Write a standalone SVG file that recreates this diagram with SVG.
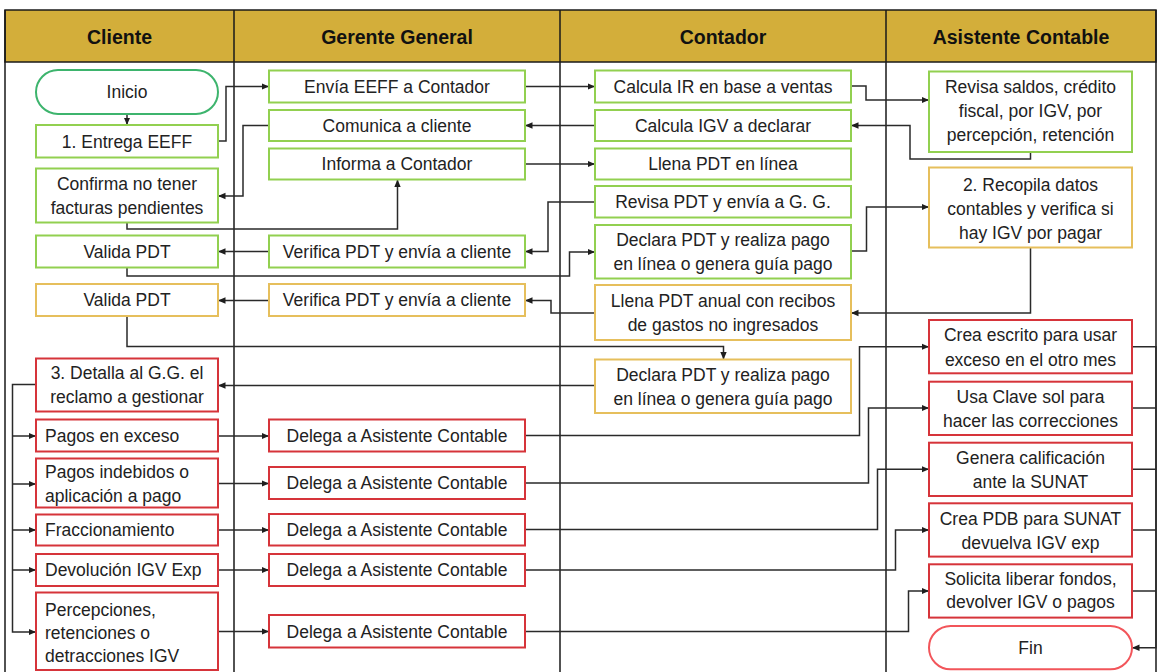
<svg xmlns="http://www.w3.org/2000/svg" width="1161" height="672" viewBox="0 0 1161 672">
  <defs>
    <marker id="arrow" markerUnits="userSpaceOnUse" markerWidth="8" markerHeight="8" viewBox="0 0 8 8" refX="7.5" refY="4" orient="auto">
      <path d="M0,0.8 L7.5,4 L0,7.2 z" fill="#1e1e1e"/>
    </marker>
    <style>
      .lane { fill: none; stroke: #1a1a1a; stroke-width: 1.5; }
      .head { fill: #D3AE3A; stroke: #1a1a1a; stroke-width: 1.5; }
      .htxt { font-family: "Liberation Sans", Arial, sans-serif; font-size: 19.5px; font-weight: bold; fill: #111; text-anchor: middle; }
      .txt { font-family: "Liberation Sans", Arial, sans-serif; font-size: 17.5px; fill: #222; text-anchor: middle; }
      .txt.left { text-anchor: start; }
      .box { fill: #fff; stroke-width: 2; }
      .green { stroke: #92D050; }
      .start { stroke: #3DB46D; }
      .gold { stroke: #E6BF5C; }
      .red { stroke: #D6343A; }
      .end { stroke: #F2555A; }
      .edge { fill: none; stroke: #2a2a2a; stroke-width: 1.5; }
      .edge.arr { marker-end: url(#arrow); }
    </style>
  </defs>

  <rect width="1161" height="672" fill="#fff"/>

  <!-- swimlane frame and headers -->
  <g id="lanes">
    <rect class="head" x="5" y="10" width="1151" height="52"/>
    <path class="lane" d="M5,10 V672 M1156,10 V672 M234,10 V672 M560,10 V672 M886,10 V672"/>
    <text class="htxt" x="119.5" y="43.5">Cliente</text>
    <text class="htxt" x="397" y="43.5">Gerente General</text>
    <text class="htxt" x="723" y="43.5">Contador</text>
    <text class="htxt" x="1021" y="43.5">Asistente Contable</text>
  </g>

  <!-- connectors -->
  <g id="connectors">
    <path class="edge arr" d="M127,114 V125"/>
    <path class="edge arr" d="M218,141 H226 V86.5 H269"/>
    <path class="edge arr" d="M525,86.5 H595"/>
    <path class="edge arr" d="M851,86 H866 V100 H929"/>
    <path class="edge arr" d="M1030.5,152 V159 H910 V125.5 H851"/>
    <path class="edge arr" d="M595,125.5 H525"/>
    <path class="edge arr" d="M269,125.5 H243 V196 H218"/>
    <path class="edge arr" d="M127,222.5 V229 H397.5 V179.5"/>
    <path class="edge arr" d="M525,164 H595"/>
    <path class="edge arr" d="M595,202 H548 V251.5 H525"/>
    <path class="edge arr" d="M269,251.5 H218"/>
    <path class="edge arr" d="M127,267.5 V276 H569.5 V252 H595"/>
    <path class="edge arr" d="M851,251 H866.5 V207 H929"/>
    <path class="edge arr" d="M1030.5,247.5 V313 H851"/>
    <path class="edge arr" d="M595,313 H551 V300.5 H525"/>
    <path class="edge arr" d="M269,300.5 H218"/>
    <path class="edge arr" d="M127,316 V346.5 H723.5 V359.5"/>
    <path class="edge arr" d="M595,385.5 H218"/>
    <!-- claim types fan out from the client's request -->
    <path class="edge arr" d="M36,384.5 H12.5 V632 H36"/>
    <path class="edge arr" d="M12.5,436 H36"/>
    <path class="edge arr" d="M12.5,484 H36"/>
    <path class="edge arr" d="M12.5,530 H36"/>
    <path class="edge arr" d="M12.5,570 H36"/>
    <path class="edge arr" d="M218,436 H269"/>
    <path class="edge arr" d="M218,483.5 H269"/>
    <path class="edge arr" d="M218,530 H269"/>
    <path class="edge arr" d="M218,570 H269"/>
    <path class="edge arr" d="M218,631.5 H269"/>
    <path class="edge arr" d="M525,435.5 H859.5 V346.7 H929"/>
    <path class="edge arr" d="M525,483 H868.5 V408 H929"/>
    <path class="edge arr" d="M525,529.5 H877.5 V469.3 H929"/>
    <path class="edge arr" d="M525,570 H895.5 V530 H929"/>
    <path class="edge arr" d="M525,631.5 H908.5 V591 H929"/>
    <!-- all closing tasks merge into Fin -->
    <path class="edge arr" d="M1132,346.7 H1156 V647.7 H1132"/>
    <path class="edge" d="M1132,408 H1156 M1132,469.3 H1156 M1132,530 H1156 M1132,591 H1156"/>
  </g>

  <!-- Cliente -->
  <g id="inicio"><rect class="box start" x="36" y="70" width="182" height="44" rx="22"/><text class="txt" x="127" y="98">Inicio</text></g>
  <g id="entrega-eeff"><rect class="box green" x="36" y="125" width="182" height="32.5"/><text class="txt" x="127" y="147.5">1. Entrega EEFF</text></g>
  <g id="confirma"><rect class="box green" x="36" y="168.5" width="182" height="54"/><text class="txt" x="127" y="190">Confirma no tener</text><text class="txt" x="127" y="214">facturas pendientes</text></g>
  <g id="valida-pdt-1"><rect class="box green" x="36" y="235.5" width="182" height="32"/><text class="txt" x="127" y="257.8">Valida PDT</text></g>
  <g id="valida-pdt-2"><rect class="box gold" x="36" y="284" width="182" height="32"/><text class="txt" x="127" y="306.3">Valida PDT</text></g>
  <g id="detalla"><rect class="box red" x="36" y="358.5" width="182" height="53"/><text class="txt" x="127" y="378.8">3. Detalla al G.G. el</text><text class="txt" x="127" y="403">reclamo a gestionar</text></g>
  <g id="pagos-exceso"><rect class="box red" x="36" y="419.5" width="182" height="32"/><text class="txt left" x="45" y="441.8">Pagos en exceso</text></g>
  <g id="pagos-indebidos"><rect class="box red" x="36" y="458.5" width="182" height="49"/><text class="txt left" x="45" y="478">Pagos indebidos o</text><text class="txt left" x="45" y="502">aplicación a pago</text></g>
  <g id="fraccionamiento"><rect class="box red" x="36" y="514.5" width="182" height="31"/><text class="txt left" x="45" y="536.3">Fraccionamiento</text></g>
  <g id="devolucion"><rect class="box red" x="36" y="554" width="182" height="32"/><text class="txt left" x="45" y="576.3">Devolución IGV Exp</text></g>
  <g id="percepciones"><rect class="box red" x="36" y="592.5" width="182" height="77.5"/><text class="txt left" x="45" y="615.5">Percepciones,</text><text class="txt left" x="45" y="639">retenciones o</text><text class="txt left" x="45" y="662.3">detracciones IGV</text></g>

  <!-- Gerente General -->
  <g id="envia-eeff"><rect class="box green" x="269" y="70.5" width="256" height="32"/><text class="txt" x="397" y="92.8">Envía EEFF a Contador</text></g>
  <g id="comunica"><rect class="box green" x="269" y="110" width="256" height="31"/><text class="txt" x="397" y="131.8">Comunica a cliente</text></g>
  <g id="informa"><rect class="box green" x="269" y="148.5" width="256" height="31"/><text class="txt" x="397" y="170.3">Informa a Contador</text></g>
  <g id="verifica-pdt-1"><rect class="box green" x="269" y="235.5" width="256" height="32"/><text class="txt" x="397" y="257.8">Verifica PDT y envía a cliente</text></g>
  <g id="verifica-pdt-2"><rect class="box gold" x="269" y="284" width="256" height="32"/><text class="txt" x="397" y="306.3">Verifica PDT y envía a cliente</text></g>
  <g id="delega-1"><rect class="box red" x="269" y="419.5" width="256" height="32"/><text class="txt" x="397" y="441.8">Delega a Asistente Contable</text></g>
  <g id="delega-2"><rect class="box red" x="269" y="467" width="256" height="32"/><text class="txt" x="397" y="489.3">Delega a Asistente Contable</text></g>
  <g id="delega-3"><rect class="box red" x="269" y="514" width="256" height="31.5"/><text class="txt" x="397" y="536">Delega a Asistente Contable</text></g>
  <g id="delega-4"><rect class="box red" x="269" y="554" width="256" height="32"/><text class="txt" x="397" y="576.3">Delega a Asistente Contable</text></g>
  <g id="delega-5"><rect class="box red" x="269" y="615" width="256" height="32.5"/><text class="txt" x="397" y="637.5">Delega a Asistente Contable</text></g>

  <!-- Contador -->
  <g id="calcula-ir"><rect class="box green" x="595" y="70.5" width="256" height="32"/><text class="txt" x="723" y="92.8">Calcula IR en base a ventas</text></g>
  <g id="calcula-igv"><rect class="box green" x="595" y="110" width="256" height="31"/><text class="txt" x="723" y="131.8">Calcula IGV a declarar</text></g>
  <g id="llena-pdt"><rect class="box green" x="595" y="148.5" width="256" height="31"/><text class="txt" x="723" y="170.3">Llena PDT en línea</text></g>
  <g id="revisa-pdt"><rect class="box green" x="595" y="186" width="256" height="31.5"/><text class="txt" x="723" y="208">Revisa PDT y envía a G. G.</text></g>
  <g id="declara-pdt-1"><rect class="box green" x="595" y="225" width="256" height="53.5"/><text class="txt" x="723" y="245.5">Declara PDT y realiza pago</text><text class="txt" x="723" y="269.5">en línea o genera guía pago</text></g>
  <g id="llena-pdt-anual"><rect class="box gold" x="595" y="285" width="256" height="55"/><text class="txt" x="723" y="307">Llena PDT anual con recibos</text><text class="txt" x="723" y="330.5">de gastos no ingresados</text></g>
  <g id="declara-pdt-2"><rect class="box gold" x="595" y="359.5" width="256" height="53.5"/><text class="txt" x="723" y="381">Declara PDT y realiza pago</text><text class="txt" x="723" y="405">en línea o genera guía pago</text></g>

  <!-- Asistente Contable -->
  <g id="revisa-saldos"><rect class="box green" x="929" y="71.5" width="203" height="80.5"/><text class="txt" x="1030.5" y="93">Revisa saldos, crédito</text><text class="txt" x="1030.5" y="117">fiscal, por IGV, por</text><text class="txt" x="1030.5" y="141">percepción, retención</text></g>
  <g id="recopila"><rect class="box gold" x="929" y="167.5" width="203" height="80"/><text class="txt" x="1030.5" y="190.5">2. Recopila datos</text><text class="txt" x="1030.5" y="214.5">contables y verifica si</text><text class="txt" x="1030.5" y="238.5">hay IGV por pagar</text></g>
  <g id="crea-escrito"><rect class="box red" x="929" y="320" width="203" height="53.3"/><text class="txt" x="1030.5" y="341">Crea escrito para usar</text><text class="txt" x="1030.5" y="365.5">exceso en el otro mes</text></g>
  <g id="usa-clave-sol"><rect class="box red" x="929" y="381.7" width="203" height="53.3"/><text class="txt" x="1030.5" y="403">Usa Clave sol para</text><text class="txt" x="1030.5" y="426.5">hacer las correcciones</text></g>
  <g id="genera-calificacion"><rect class="box red" x="929" y="442.7" width="203" height="53.3"/><text class="txt" x="1030.5" y="464">Genera calificación</text><text class="txt" x="1030.5" y="488">ante la SUNAT</text></g>
  <g id="crea-pdb"><rect class="box red" x="929" y="503.3" width="203" height="53.3"/><text class="txt" x="1030.5" y="524.5">Crea PDB para SUNAT</text><text class="txt" x="1030.5" y="548.5">devuelva IGV exp</text></g>
  <g id="solicita"><rect class="box red" x="929" y="564.3" width="203" height="53.3"/><text class="txt" x="1030.5" y="584.5">Solicita liberar fondos,</text><text class="txt" x="1030.5" y="608">devolver IGV o pagos</text></g>
  <g id="fin"><rect class="box end" x="929" y="626" width="203" height="43.3" rx="21.6"/><text class="txt" x="1030.5" y="654">Fin</text></g>
</svg>
